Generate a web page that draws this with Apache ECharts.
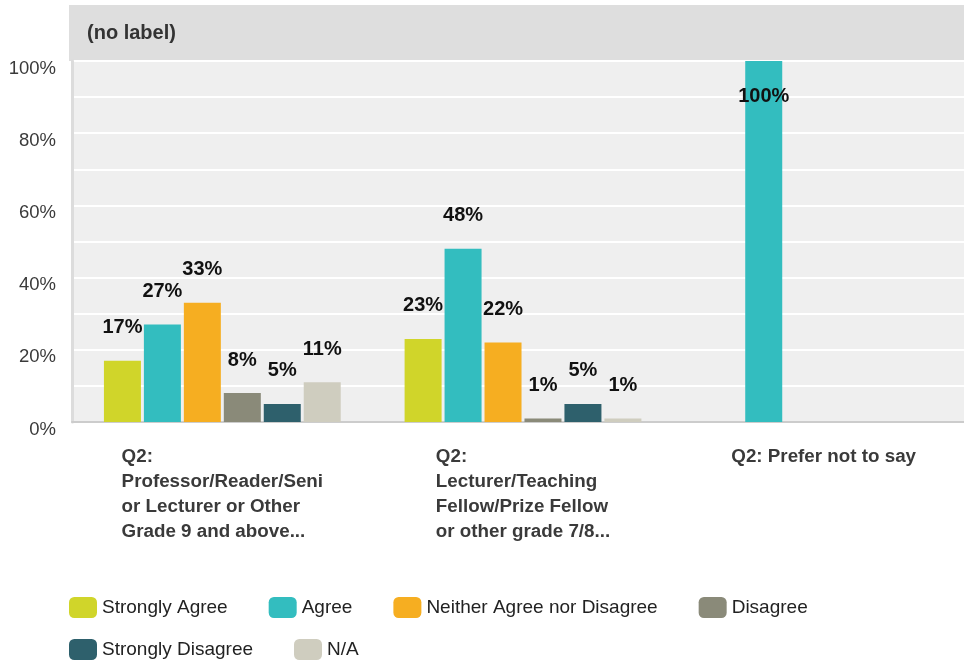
<!DOCTYPE html>
<html>
<head>
<meta charset="utf-8">
<title>(no label)</title>
<script src="https://cdn.jsdelivr.net/npm/echarts@6/dist/echarts.min.js"></script>
<style>
  html, body { margin: 0; padding: 0; background: #ffffff; }
  #chart { width: 964px; height: 664px; }
</style>
</head>
<body>
<div id="chart"></div>
<script>
// Respondent groups (x-axis categories, shown as wrapped labels)
const categories = [
  'Q2:\nProfessor/Reader/Seni\nor Lecturer or Other\nGrade 9 and above...',
  'Q2:\nLecturer/Teaching\nFellow/Prize Fellow\nor other grade 7/8...',
  'Q2: Prefer not to say'
];

// Percentage of responses per answer, one value per group (null = no responses)
const stronglyAgree    = [17, 23, null];
const agree            = [27, 48, 100];
const neither          = [33, 22, null];
const disagree         = [8, 1, null];
const stronglyDisagree = [5, 5, null];
const notApplicable    = [11, 1, null];

// Y-axis tick values (percent)
const yTicks = [0, 20, 40, 60, 80, 100];

const seriesNames = ['Strongly Agree', 'Agree', 'Neither Agree nor Disagree', 'Disagree', 'Strongly Disagree', 'N/A'];
const seriesValues = [stronglyAgree, agree, neither, disagree, stronglyDisagree, notApplicable];
const seriesColors = ['#d0d52a', '#33bdbf', '#f6ae21', '#8a8a79', '#2e606c', '#cfcdbf'];

const FONT = '"Liberation Sans", Arial, Helvetica, sans-serif';

const chart = echarts.init(document.getElementById('chart'), null, { renderer: 'canvas' });

// A bar that reaches the top of the axis gets its label tucked inside.
function toData(values) {
  return values.map(v => {
    if (v === null) return null;
    if (v >= 100) {
      return { value: v, label: { position: 'insideTop', distance: 25 } };
    }
    return v;
  });
}

const series = seriesNames.map((name, i) => ({
  name: name,
  type: 'bar',
  data: toData(seriesValues[i]),
  barWidth: 37,
  barGap: '8%',
  itemStyle: { color: seriesColors[i] },
  label: {
    show: true,
    position: 'top',
    distance: 23,
    formatter: '{c}%',
    fontFamily: FONT,
    fontSize: 20,
    fontWeight: 'bold',
    color: '#111111'
  },
  emphasis: { disabled: true },
  animation: false
}));

const legendCommon = {
  icon: 'roundRect',
  itemWidth: 28,
  itemHeight: 21,
  itemGap: 41,
  padding: 0,
  selectedMode: false,
  textStyle: { fontFamily: FONT, fontSize: 19, color: '#222222' }
};

const option = {
  backgroundColor: '#ffffff',
  animation: false,
  title: {
    text: '(no label)',
    left: 82,
    top: 18,
    textStyle: { fontFamily: FONT, fontSize: 20, fontWeight: 'bold', color: '#333333' }
  },
  graphic: [{
    type: 'rect',
    z: -10,
    shape: { x: 69, y: 5, width: 900, height: 56 },
    style: { fill: '#dedede' },
    silent: true
  }],
  legend: [
    Object.assign({}, legendCommon, { left: 69, top: 597, data: seriesNames.slice(0, 4) }),
    Object.assign({}, legendCommon, { left: 69, top: 639, data: seriesNames.slice(4) })
  ],
  grid: {
    left: 72,
    width: 902,
    top: 61,
    bottom: 242,
    containLabel: false,
    outerBoundsMode: 'none',
    show: true,
    backgroundColor: '#efefef',
    borderWidth: 0
  },
  xAxis: {
    type: 'category',
    data: categories,
    axisTick: { show: false },
    axisLine: { show: true, lineStyle: { color: '#cccccc', width: 2 } },
    axisLabel: {
      interval: 0,
      margin: 22,
      align: 'center',
      formatter: v => v.split('\n').map(line => '{a|' + line + '}').join('\n'),
      rich: {
        a: {
          align: 'left',
          fontFamily: FONT,
          fontSize: 18.8,
          fontWeight: 'bold',
          lineHeight: 25,
          color: '#3a3a3a'
        }
      }
    }
  },
  yAxis: {
    type: 'value',
    min: 0,
    max: 100,
    interval: 10,
    axisTick: { show: false },
    axisLine: { show: true, lineStyle: { color: '#dcdcdc', width: 3 } },
    splitLine: { show: true, lineStyle: { color: '#ffffff', width: 2 } },
    axisLabel: {
      margin: 16,
      verticalAlign: 'top',
      padding: [-2, 0, 0, 0],
      fontFamily: FONT,
      fontSize: 18.5,
      color: '#3a3a3a',
      formatter: v => (yTicks.indexOf(v) >= 0 ? v + '%' : '')
    }
  },
  series: series
};

chart.setOption(option);
</script>
</body>
</html>
